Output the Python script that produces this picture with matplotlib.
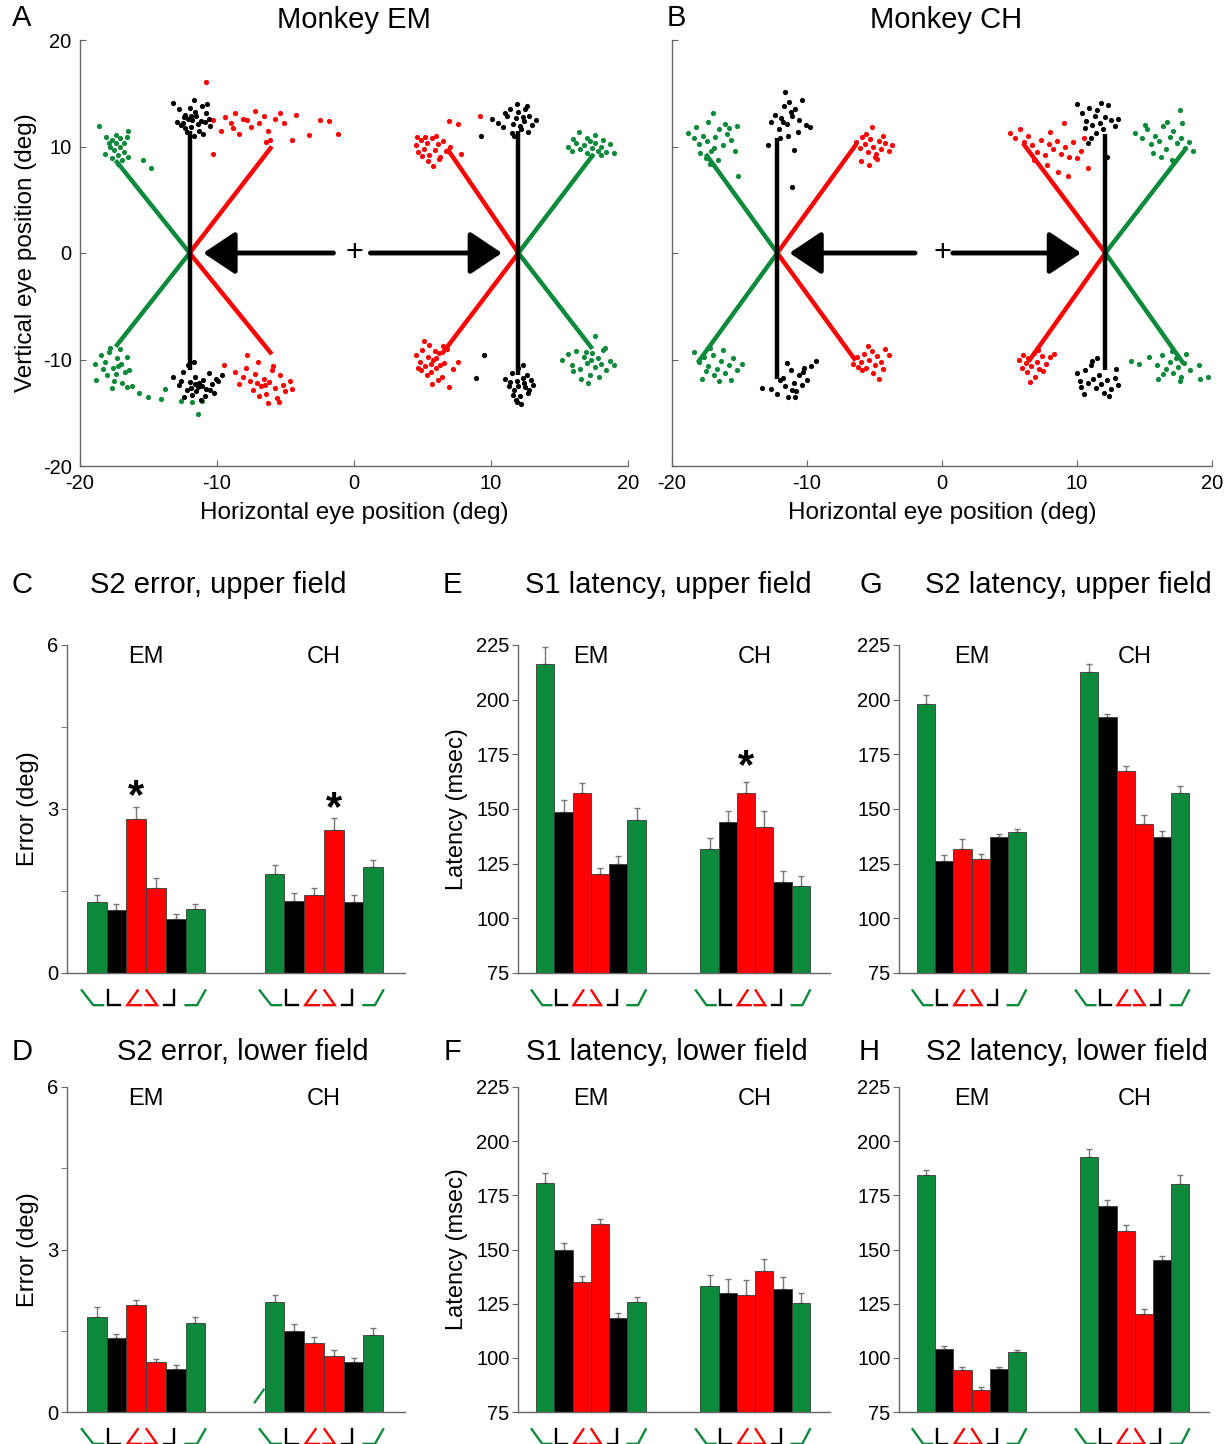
import numpy as np
import matplotlib
matplotlib.use("Agg")
import matplotlib.pyplot as plt
from matplotlib.transforms import blended_transform_factory

plt.rcParams["font.family"] = ["Liberation Sans", "DejaVu Sans"]
plt.rcParams["axes.unicode_minus"] = False

GREEN = "#0b8a3b"
RED = "#ff0000"
BLACK = "#000000"
SPINE = "#666666"

# ---------------- eye position data (deg) ----------------
# Monkey EM
em_ul_black = [(-13.2, 14.1), (-12.8, 13.5), (-12.5, 12.2), (-12.3, 13.0), (-12.1, 12.6), (-11.9, 11.8),
               (-11.7, 14.4), (-11.5, 12.9), (-11.3, 11.5), (-11.1, 13.8), (-10.9, 12.3), (-10.7, 14.0),
               (-10.5, 11.9), (-12.6, 12.0), (-12.2, 11.4), (-11.8, 12.5), (-11.6, 13.2), (-11.4, 12.1),
               (-11.0, 11.2), (-12.4, 12.8), (-12.0, 13.6), (-11.2, 12.4), (-10.8, 13.1), (-12.9, 12.3),
               (-11.7, 11.0), (-11.9, 12.9), (-12.3, 11.7), (-10.6, 12.6)]
em_ul_red = [(-10.8, 16.1), (-10.3, 12.5), (-10.3, 9.3), (-9.4, 12.8), (-9.0, 12.2), (-8.7, 13.1),
             (-8.1, 12.6), (-7.5, 11.8), (-7.2, 13.3), (-6.9, 12.2), (-6.6, 12.9), (-6.3, 11.5),
             (-6.1, 10.6), (-5.4, 13.1), (-5.1, 12.2), (-4.5, 10.6), (-4.2, 13.0), (-3.3, 11.1),
             (-2.5, 12.5), (-1.8, 12.4), (-1.2, 11.2), (-9.7, 11.5), (-8.4, 11.2), (-7.8, 12.5),
             (-8.8, 11.7), (-6.4, 10.4), (-5.8, 12.6)]
em_ul_green = [(-18.6, 11.9), (-18.1, 10.9), (-17.7, 10.6), (-17.4, 10.3), (-17.1, 10.8), (-16.8, 10.3),
               (-16.5, 11.5), (-17.5, 9.7), (-17.2, 9.2), (-16.9, 8.7), (-17.8, 10.0), (-18.2, 9.3),
               (-17.1, 10.0), (-16.8, 9.5), (-16.5, 9.0), (-15.4, 8.7), (-14.8, 8.0), (-17.9, 10.3),
               (-17.4, 11.1), (-16.6, 10.9), (-17.2, 8.4), (-17.7, 8.9)]
em_ll_green = [(-16.6, -12.6), (-15.7, -13.1), (-15.0, -13.5), (-14.1, -13.7), (-13.8, -12.8), (-12.6, -13.9),
               (-11.8, -14.0), (-11.4, -15.1), (-11.1, -13.9), (-18.5, -9.6), (-18.2, -10.2), (-17.9, -9.3),
               (-17.6, -10.8), (-17.3, -9.9), (-17.0, -10.4), (-16.7, -11.2), (-18.0, -11.5), (-17.5, -12.0),
               (-16.9, -12.2), (-16.4, -11.0), (-18.8, -11.9), (-17.8, -8.9), (-17.1, -9.0), (-16.6, -9.8),
               (-18.3, -10.9), (-17.4, -11.4), (-16.2, -12.5), (-17.7, -12.7), (-18.9, -10.4), (-17.2, -10.6)]
em_ll_black = [(-13.2, -11.6), (-12.8, -12.4), (-12.5, -11.2), (-12.2, -12.9), (-12.0, -12.1), (-11.8, -13.3),
               (-11.6, -11.6), (-11.4, -12.6), (-11.2, -13.8), (-11.0, -11.9), (-10.8, -12.8), (-10.6, -11.3),
               (-10.4, -12.3), (-10.2, -13.1), (-9.9, -12.0), (-9.6, -11.5), (-12.1, -10.5), (-11.7, -10.2),
               (-11.3, -12.2), (-10.9, -13.4), (-11.9, -12.7), (-12.4, -13.5), (-10.5, -12.9), (-11.5, -13.0),
               (-10.1, -11.8), (-12.6, -12.0), (-11.1, -12.5), (-11.6, -12.3)]
em_ll_red = [(-8.7, -11.2), (-8.4, -12.3), (-8.1, -11.6), (-7.9, -10.8), (-7.6, -12.0), (-7.4, -12.9),
             (-7.2, -11.4), (-7.0, -10.2), (-6.8, -12.5), (-6.6, -11.8), (-6.4, -13.2), (-6.2, -12.1),
             (-6.0, -11.0), (-5.8, -12.7), (-5.6, -13.6), (-5.4, -11.5), (-5.2, -12.4), (-5.0, -13.0),
             (-4.7, -12.0), (-4.5, -12.8), (-6.3, -14.1), (-5.5, -14.0), (-7.8, -9.6), (-9.5, -10.5),
             (-6.9, -13.4), (-5.9, -10.6), (-6.5, -12.4), (-7.1, -12.2)]
em_ur_red = [(4.5, 10.1), (4.7, 9.5), (4.9, 10.6), (5.1, 9.8), (5.3, 10.3), (5.5, 9.2), (5.7, 10.8),
             (5.9, 9.7), (6.1, 10.2), (6.3, 9.0), (6.5, 10.5), (5.0, 9.1), (5.4, 8.6), (5.8, 8.2),
             (6.2, 8.8), (4.6, 10.9), (6.7, 9.6), (7.0, 10.0), (7.8, 9.3), (6.9, 12.4), (7.6, 12.1),
             (9.2, 12.9), (5.2, 10.9), (6.0, 11.0)]
em_ur_black = [(10.1, 12.6), (10.5, 12.2), (10.9, 11.8), (11.2, 12.9), (11.4, 13.5), (11.6, 12.1),
               (11.8, 12.7), (12.0, 13.2), (12.2, 11.6), (12.4, 12.4), (12.6, 13.8), (12.8, 12.9),
               (13.0, 12.0), (13.3, 12.5), (11.5, 11.3), (12.1, 11.9), (11.9, 14.0), (12.5, 13.5),
               (11.0, 13.1), (12.7, 11.4), (9.3, 11.0), (11.7, 11.0), (12.3, 12.8)]
em_ur_green = [(15.6, 10.0), (15.9, 9.6), (16.2, 10.3), (16.5, 9.8), (16.8, 10.1), (17.0, 9.4),
               (17.2, 10.5), (17.4, 9.9), (17.6, 10.3), (17.8, 9.6), (18.0, 10.0), (18.2, 10.6),
               (18.4, 9.5), (18.7, 10.2), (19.0, 9.4), (16.4, 11.4), (17.0, 10.8), (17.6, 11.1),
               (18.0, 9.2), (16.0, 10.7), (17.3, 9.1)]
em_lr_red = [(4.5, -9.6), (4.8, -10.2), (5.0, -9.1), (5.2, -10.6), (5.4, -9.8), (5.6, -11.2), (5.8, -10.0),
             (6.0, -10.8), (6.2, -9.4), (6.4, -11.6), (6.6, -10.3), (5.1, -8.3), (5.5, -8.6), (6.1, -11.9),
             (5.7, -12.3), (4.9, -11.0), (6.8, -9.0), (7.2, -10.9), (7.6, -10.2), (6.9, -12.6), (5.3, -11.5),
             (5.9, -9.2), (6.3, -10.5), (4.7, -10.8), (6.5, -8.7), (5.6, -10.4), (6.0, -9.9)]
em_lr_black = [(11.0, -11.8), (11.3, -12.5), (11.5, -11.3), (11.7, -12.9), (11.9, -12.0), (12.1, -13.4),
               (12.3, -11.7), (12.5, -12.6), (12.7, -13.1), (12.9, -11.9), (13.1, -12.4), (11.8, -13.8),
               (12.2, -14.2), (12.0, -10.8), (11.6, -13.3), (12.4, -12.2), (12.8, -12.9), (11.4, -12.1),
               (12.6, -11.5), (9.5, -9.6), (8.9, -11.7), (12.0, -12.5), (11.9, -14.0), (12.3, -10.5)]
em_lr_green = [(15.2, -10.0), (15.6, -9.5), (15.9, -10.5), (16.2, -9.2), (16.5, -10.9), (16.8, -9.8),
               (17.0, -10.3), (17.2, -11.5), (17.4, -9.4), (17.6, -10.7), (17.8, -9.9), (18.0, -10.4),
               (18.2, -9.1), (18.4, -11.0), (18.7, -10.1), (19.0, -10.5), (16.6, -11.8), (17.1, -12.2),
               (17.6, -7.8), (17.9, -11.6), (16.0, -11.1), (18.3, -8.9), (17.3, -10.0), (16.9, -9.3)]

# Monkey CH
ch_ul_green = [(-18.8, 11.3), (-18.4, 10.8), (-18.0, 10.2), (-17.7, 11.0), (-17.4, 10.5), (-17.1, 9.6),
               (-16.8, 10.9), (-16.5, 11.6), (-16.2, 10.1), (-15.9, 11.2), (-15.6, 10.6), (-15.2, 11.9),
               (-17.9, 9.4), (-17.5, 8.9), (-17.2, 8.4), (-16.9, 9.9), (-17.0, 13.1), (-16.1, 12.1),
               (-15.3, 9.6), (-15.1, 7.2), (-18.2, 11.8), (-17.3, 12.3), (-16.6, 8.7), (-15.8, 11.7)]
ch_ul_black = [(-12.7, 12.3), (-12.4, 13.0), (-12.1, 11.6), (-11.9, 12.7), (-11.7, 13.8), (-11.5, 12.1),
               (-11.3, 14.2), (-11.1, 12.9), (-10.9, 13.5), (-10.7, 11.4), (-10.4, 14.4), (-10.1, 12.0),
               (-9.8, 11.8), (-11.6, 15.1), (-12.0, 10.8), (-11.4, 11.0), (-11.0, 9.7), (-11.1, 6.2),
               (-12.9, 10.1), (-10.6, 12.5), (-11.8, 12.3), (-11.2, 13.2)]
ch_ul_red = [(-6.4, 10.4), (-6.1, 9.9), (-5.9, 10.9), (-5.7, 10.2), (-5.5, 9.5), (-5.3, 10.7), (-5.1, 10.0),
             (-4.9, 9.3), (-4.7, 10.5), (-4.5, 9.8), (-4.2, 10.3), (-3.9, 9.6), (-3.7, 10.1), (-5.6, 11.2),
             (-5.2, 11.8), (-4.8, 8.8), (-6.0, 8.6), (-5.4, 8.3), (-4.4, 11.0), (-5.0, 9.0)]
ch_ll_green = [(-18.4, -9.3), (-18.0, -10.2), (-17.6, -9.8), (-17.3, -10.6), (-17.0, -9.6), (-16.7, -10.9),
               (-16.4, -10.1), (-16.1, -11.3), (-15.8, -10.5), (-15.5, -9.9), (-15.2, -11.0), (-14.8, -10.4),
               (-17.8, -11.8), (-16.9, -11.5), (-16.2, -9.1), (-17.2, -8.9), (-15.6, -11.9), (-16.5, -12.0),
               (-17.5, -11.1)]
ch_ll_black = [(-13.3, -12.7), (-12.7, -12.8), (-12.2, -13.2), (-11.8, -11.7), (-11.6, -12.5), (-11.4, -13.5),
               (-11.2, -11.0), (-11.0, -12.2), (-10.8, -13.0), (-10.6, -11.5), (-10.4, -12.4), (-10.2, -10.8),
               (-10.0, -11.9), (-9.7, -10.6), (-9.3, -10.1), (-11.5, -10.3), (-10.9, -13.5), (-10.3, -11.2),
               (-11.1, -12.9), (-12.0, -11.9)]
ch_ll_red = [(-6.6, -10.4), (-6.3, -9.8), (-6.0, -10.2), (-5.8, -9.5), (-5.6, -10.8), (-5.4, -10.0),
             (-5.2, -9.2), (-5.0, -10.5), (-4.8, -9.7), (-4.5, -10.2), (-4.2, -9.0), (-3.9, -9.6),
             (-5.9, -11.0), (-5.1, -11.3), (-4.7, -11.8), (-5.5, -8.7), (-6.2, -10.7), (-4.4, -10.9)]
ch_ur_red = [(5.0, 11.3), (5.4, 10.8), (5.8, 11.6), (6.1, 10.4), (6.4, 11.0), (6.7, 10.1), (7.0, 9.5),
             (7.3, 10.6), (7.6, 9.2), (7.9, 10.2), (8.2, 9.8), (8.5, 10.5), (8.8, 9.3), (9.1, 10.0),
             (9.4, 9.0), (9.7, 10.4), (10.0, 8.9), (10.3, 9.6), (7.8, 8.3), (8.6, 7.6), (9.3, 7.2),
             (10.8, 8.0), (9.0, 12.2), (8.0, 11.4), (6.8, 8.7), (10.5, 10.8)]
ch_ur_black = [(10.0, 14.0), (10.4, 13.1), (10.7, 12.4), (10.9, 13.6), (11.1, 12.0), (11.3, 12.9),
               (11.5, 13.4), (11.7, 12.2), (11.9, 11.6), (12.1, 12.8), (12.3, 13.9), (12.5, 12.5),
               (12.8, 11.9), (13.0, 12.6), (11.0, 10.8), (10.8, 10.3), (11.4, 11.3), (12.2, 9.0),
               (11.8, 14.1), (10.6, 11.7)]
ch_ur_green = [(14.3, 11.3), (14.8, 10.8), (15.2, 11.6), (15.5, 10.2), (15.8, 11.0), (16.1, 10.5),
               (16.4, 11.9), (16.6, 9.8), (16.9, 10.9), (17.1, 11.5), (17.4, 10.3), (17.7, 10.8),
               (18.0, 9.9), (18.3, 10.4), (18.6, 9.6), (15.6, 9.4), (16.2, 9.0), (17.0, 8.7),
               (17.8, 12.2), (17.6, 13.4), (16.7, 12.3), (15.0, 12.0)]
ch_lr_red = [(5.7, -10.0), (6.0, -9.6), (6.2, -10.3), (6.4, -9.9), (6.6, -10.6), (6.8, -9.4), (7.0, -10.2),
             (7.2, -10.9), (7.4, -9.7), (7.7, -10.4), (8.0, -9.8), (8.3, -9.5), (6.3, -11.2), (6.9, -11.6),
             (6.5, -12.1), (7.5, -11.1), (5.9, -10.8), (7.1, -9.1)]
ch_lr_black = [(10.0, -11.3), (10.3, -12.6), (10.6, -11.0), (10.8, -12.2), (11.0, -10.5), (11.2, -11.8),
               (11.4, -12.7), (11.6, -11.5), (11.8, -12.3), (12.0, -13.1), (12.2, -11.9), (12.5, -12.8),
               (12.8, -11.7), (13.0, -12.4), (10.5, -13.2), (11.1, -10.1), (12.4, -13.4), (11.5, -9.9),
               (12.9, -10.9), (10.2, -12.0)]
ch_lr_green = [(14.0, -10.1), (14.6, -10.4), (15.3, -9.8), (15.9, -10.5), (16.3, -9.6), (16.6, -10.9),
               (16.9, -10.2), (17.1, -11.3), (17.3, -9.9), (17.5, -10.7), (17.7, -11.6), (17.9, -10.3),
               (18.1, -9.5), (18.4, -11.0), (17.0, -9.2), (16.4, -11.4), (17.6, -12.0), (19.0, -10.5),
               (19.7, -11.6), (19.1, -11.8), (16.0, -11.8)]

# trajectory lines (start, end) in deg
em_black_lines = [((-12.0, 11.5), (-12.0, -11.0)), ((12.0, 11.5), (12.0, -11.5))]
em_red_lines = [((-12.0, 0), (-6.0, 10.0)), ((-12.0, 0), (-6.0, -9.5)), ((12.0, 0), (6.8, 9.8)), ((12.0, 0), (6.4, -9.5))]
em_green_lines = [((-12.0, 0), (-17.4, 8.7)), ((-12.0, 0), (-17.4, -8.8)), ((12.0, 0), (17.5, 9.3)), ((12.0, 0), (17.4, -9.0))]
ch_black_lines = [((-12.2, 10.8), (-12.2, -11.8)), ((12.1, 11.2), (12.1, -11.0))]
ch_red_lines = [((-12.2, 0), (-6.3, 10.3)), ((-12.2, 0), (-6.4, -10.1)), ((12.1, 0), (6.0, 10.3)), ((12.1, 0), (6.4, -10.2))]
ch_green_lines = [((-12.2, 0), (-17.5, 9.3)), ((-12.2, 0), (-18.1, -10.3)), ((12.1, 0), (18.0, 9.7)), ((12.1, 0), (17.9, -10.4))]
# S1 arrows (tail x, tip x) at y = 0
em_arrows = [(-1.5, -11.0), (1.2, 10.8)]
ch_arrows = [(-2.0, -11.3), (0.8, 10.3)]

# ---------------- bar data ----------------
bar_colors = [GREEN, BLACK, RED, RED, BLACK, GREEN]
em_x = [0, 1, 2, 3, 4, 5]
ch_x = [9, 10, 11, 12, 13, 14]

c_em = [1.29, 1.16, 2.82, 1.55, 0.99, 1.17]
c_em_err = [0.13, 0.11, 0.22, 0.18, 0.09, 0.09]
c_ch = [1.82, 1.31, 1.43, 2.61, 1.29, 1.93]
c_ch_err = [0.15, 0.15, 0.12, 0.22, 0.14, 0.14]

d_em = [1.76, 1.36, 1.97, 0.93, 0.79, 1.64]
d_em_err = [0.17, 0.08, 0.09, 0.05, 0.07, 0.11]
d_ch = [2.04, 1.50, 1.28, 1.04, 0.92, 1.43]
d_ch_err = [0.12, 0.12, 0.10, 0.11, 0.08, 0.12]

e_em = [216.2, 148.6, 157.1, 120.1, 124.8, 145.1]
e_em_err = [8.0, 5.3, 4.9, 2.7, 3.8, 5.4]
e_ch = [131.6, 144.1, 157.1, 141.8, 116.4, 114.6]
e_ch_err = [5.2, 4.8, 5.3, 7.4, 5.4, 4.9]

f_em = [180.5, 149.6, 135.0, 161.9, 118.6, 125.8]
f_em_err = [4.9, 3.6, 2.8, 2.3, 2.0, 2.5]
f_ch = [133.0, 129.8, 129.2, 140.1, 131.8, 125.5]
f_ch_err = [5.3, 6.8, 6.8, 5.7, 5.4, 4.6]

g_em = [198.2, 126.1, 131.7, 127.0, 137.3, 139.5]
g_em_err = [3.9, 2.7, 4.4, 2.4, 1.3, 1.4]
g_ch = [212.7, 192.0, 167.4, 143.0, 137.1, 157.4]
g_ch_err = [3.8, 1.6, 2.3, 4.3, 2.7, 3.1]

h_em = [184.2, 104.2, 94.5, 85.0, 95.0, 102.5]
h_em_err = [2.7, 1.2, 1.5, 1.4, 0.9, 0.9]
h_ch = [192.9, 170.3, 158.4, 120.3, 145.2, 180.3]
h_ch_err = [3.7, 2.4, 2.9, 2.1, 2.0, 4.0]

# significance stars: (x, y)
c_stars = [(2, 3.22), (12, 3.0)]
e_stars = [(11, 169.0)]

# little trajectory icons under each bar (x offsets from bar centre, y 1=top 0=bottom)
glyph_x = [[-0.75, -0.17, 0.33], [-0.42, -0.42, 0.17], [0.08, -0.45, 0.25],
           [-0.47, 0.05, -0.53], [-0.08, -0.08, -0.58], [-0.5, 0.08, 0.5]]
glyph_y = [[1, 0, 0], [1, 0, 0], [1, 0, 0], [1, 0, 0], [1, 0, 0], [0, 0, 1]]

W, H = 1225, 1444
fig = plt.figure(figsize=(W / 100, H / 100), dpi=100)


def add_ax(left, top, right, bottom):
    return fig.add_axes([left / W, 1 - bottom / H, (right - left) / W, (bottom - top) / H])


def style_spines(ax):
    for s in ("top", "right"):
        ax.spines[s].set_visible(False)
    for s in ("left", "bottom"):
        ax.spines[s].set_color(SPINE)
        ax.spines[s].set_linewidth(1.0)


def eye_panel(ax, clusters, black_lines, red_lines, green_lines, arrows, ylabels):
    for segs, col in ((green_lines, GREEN), (red_lines, RED), (black_lines, BLACK)):
        for (x0, y0), (x1, y1) in segs:
            ax.plot([x0, x1], [y0, y1], color=col, lw=3.2, solid_capstyle="butt", zorder=2)
    for pts, col in clusters:
        xs, ys = zip(*pts)
        ax.scatter(xs, ys, s=14, color=col, lw=0, zorder=3)
    for tail, tip in arrows:
        ax.annotate("", xy=(tip, 0), xytext=(tail, 0),
                    arrowprops=dict(arrowstyle="-|>,head_length=0.9,head_width=0.6",
                                    mutation_scale=22, lw=3.5, color="k",
                                    shrinkA=0, shrinkB=0), zorder=4)
    ax.text(0, 0, "+", ha="center", va="center", fontsize=22)
    ax.set_xlim(-20, 20)
    ax.set_ylim(-20, 20)
    ax.set_xticks([-20, -10, 0, 10, 20])
    ax.set_yticks([-20, -10, 0, 10, 20])
    style_spines(ax)
    ax.tick_params(direction="in", length=4, color=SPINE, labelsize=14.5, pad=6)
    ax.tick_params(axis="y", labelleft=ylabels)
    ax.set_xlabel("Horizontal eye position (deg)", fontsize=17.5, labelpad=6)
    if ylabels:
        ax.set_ylabel("Vertical eye position (deg)", fontsize=17.5, labelpad=4)


def bar_panel(ax, em_vals, em_err, ch_vals, ch_err, ylim, yticks, minor, ylabel, stars):
    base = ylim[0]
    for xs, vals, errs in ((em_x, em_vals, em_err), (ch_x, ch_vals, ch_err)):
        heights = [v - base for v in vals]
        ax.bar(xs, heights, bottom=base, width=1.0, color=bar_colors,
               edgecolor="#3a3a3a", linewidth=0.6, zorder=2)
        ax.errorbar(xs, vals, yerr=[np.zeros(len(vals)), errs], fmt="none",
                    ecolor="#777777", elinewidth=1.0, capsize=2.5, capthick=1.0, zorder=1)
    ax.set_xlim(-1.5, 15.6)
    ax.set_ylim(*ylim)
    ax.set_yticks(yticks)
    ax.set_yticks(minor, minor=True)
    style_spines(ax)
    ax.tick_params(axis="y", which="both", direction="out", length=4, color=SPINE,
                   labelsize=14.5, pad=2)
    ax.tick_params(axis="x", bottom=False, labelbottom=False)
    if ylabel:
        ax.set_ylabel(ylabel, fontsize=17, labelpad=6)
    trans = blended_transform_factory(ax.transData, ax.transAxes)
    ax.text(2.5, 0.963, "EM", transform=trans, ha="center", va="center", fontsize=17)
    ax.text(11.5, 0.963, "CH", transform=trans, ha="center", va="center", fontsize=17)
    for sx, sy in stars:
        ax.text(sx, sy, "*", ha="center", va="center", fontsize=30, fontweight="bold")
    # trajectory icons under the bars
    for group in (em_x, ch_x):
        for xc, gx, gy, col in zip(group, glyph_x, glyph_y, bar_colors):
            ax.plot([xc + v for v in gx], [-0.098 + 0.045 * v for v in gy],
                    color=col, lw=1.7, transform=trans, clip_on=False,
                    solid_joinstyle="miter")


# ---- panels A and B ----
axA = add_ax(80, 40, 628, 466)
eye_panel(axA,
          [(em_ul_green, GREEN), (em_ll_green, GREEN), (em_ur_green, GREEN), (em_lr_green, GREEN),
           (em_ul_red, RED), (em_ll_red, RED), (em_ur_red, RED), (em_lr_red, RED),
           (em_ul_black, BLACK), (em_ll_black, BLACK), (em_ur_black, BLACK), (em_lr_black, BLACK)],
          em_black_lines, em_red_lines, em_green_lines, em_arrows, True)

axB = add_ax(672, 40, 1212, 466)
eye_panel(axB,
          [(ch_ul_green, GREEN), (ch_ll_green, GREEN), (ch_ur_green, GREEN), (ch_lr_green, GREEN),
           (ch_ul_red, RED), (ch_ll_red, RED), (ch_ur_red, RED), (ch_lr_red, RED),
           (ch_ul_black, BLACK), (ch_ll_black, BLACK), (ch_ur_black, BLACK), (ch_lr_black, BLACK)],
          ch_black_lines, ch_red_lines, ch_green_lines, ch_arrows, False)

# ---- bar panels ----
err_ticks, err_minor = [0, 3, 6], [1.5, 4.5]
lat_ticks = [75, 100, 125, 150, 175, 200, 225]

axC = add_ax(67, 645, 405, 973)
bar_panel(axC, c_em, c_em_err, c_ch, c_ch_err, (0, 6), err_ticks, err_minor, "Error (deg)", c_stars)
axD = add_ax(67, 1087, 405, 1412)
bar_panel(axD, d_em, d_em_err, d_ch, d_ch_err, (0, 6), err_ticks, err_minor, "Error (deg)", [])
axD.plot([8.0, 8.45], [0.18, 0.41], color=GREEN, lw=1.6)  # stray mark in the original

axE = add_ax(518, 645, 830, 973)
bar_panel(axE, e_em, e_em_err, e_ch, e_ch_err, (75, 225), lat_ticks, [], "Latency (msec)", e_stars)
axF = add_ax(518, 1087, 830, 1412)
bar_panel(axF, f_em, f_em_err, f_ch, f_ch_err, (75, 225), lat_ticks, [], "Latency (msec)", [])

axG = add_ax(899, 645, 1209, 973)
bar_panel(axG, g_em, g_em_err, g_ch, g_ch_err, (75, 225), lat_ticks, [], None, [])
axH = add_ax(899, 1087, 1209, 1412)
bar_panel(axH, h_em, h_em_err, h_ch, h_ch_err, (75, 225), lat_ticks, [], None, [])

# ---- titles and panel letters (pixel positions) ----
titles = [("A", 22, 18, "Monkey EM", 354, 20), ("B", 676, 18, "Monkey CH", 946, 20),
          ("C", 22, 585, "S2 error, upper field", 218, 585), ("D", 22, 1052, "S2 error, lower field", 243, 1052),
          ("E", 452, 585, "S1 latency, upper field", 668, 585), ("F", 452, 1052, "S1 latency, lower field", 667, 1052),
          ("G", 871, 585, "S2 latency, upper field", 1068, 585), ("H", 869, 1052, "S2 latency, lower field", 1067, 1052)]
for letter, lx, ly, title, tx, ty in titles:
    fig.text(lx / W, 1 - ly / H, letter, ha="center", va="center", fontsize=21)
    fig.text(tx / W, 1 - ty / H, title, ha="center", va="center", fontsize=21)

fig.savefig("out.png", dpi=100)
